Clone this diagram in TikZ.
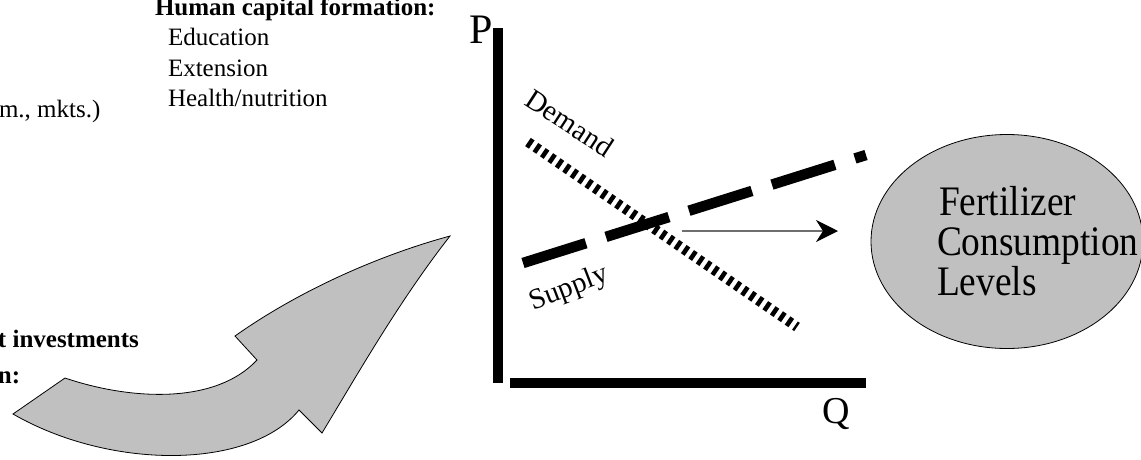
\documentclass[tikz,border=0pt]{standalone}
\usepackage{fontspec}
\setmainfont{Liberation Serif}
\newfontfamily\condserif[FakeStretch=0.89]{Liberation Serif}
\usetikzlibrary{arrows.meta,shapes.geometric}
\definecolor{arrowgray}{RGB}{192,192,192}
\definecolor{thingray}{RGB}{110,110,110}
\begin{document}
\begin{tikzpicture}[x=1pt,y=-1pt,
  lbl/.style={inner sep=0pt, outer sep=0pt, anchor=base west, font=\fontsize{25}{30}\selectfont},
  hd/.style={lbl, font=\fontsize{25}{30}\selectfont\bfseries},
  big/.style={inner sep=0pt, outer sep=0pt, anchor=base west, font=\condserif\fontsize{42}{40}\selectfont},
  curvelbl/.style={inner sep=0pt, outer sep=0pt, font=\fontsize{29}{32}\selectfont},
  axisline/.style={line width=10pt},
  supplyline/.style={line width=10.5pt, dash pattern=on 66pt off 21pt},
  demandline/.style={line width=10pt, dash pattern=on 4.5pt off 4.5pt},
  bigarrow/.style={fill=arrowgray, draw=black, line width=0.8pt, line join=miter},
  shiftarrow/.style={draw=thingray, line width=1.3pt, -{Stealth[length=22pt,width=22pt,inset=7pt,color=black]}},
  fertshape/.style={ellipse, draw=black, line width=0.8pt, fill=arrowgray, inner sep=0pt, minimum width=272pt, minimum height=214pt}
]
\useasboundingbox (0,0) rectangle (1141,459);
\clip (0,0) rectangle (1141,459);

% left texts
\node[hd] (hcf) at (155,15) {Human capital formation:};
\node[lbl] (edu) at (168,45) {Education};
\node[lbl] (ext) at (168,76) {Extension};
\node[lbl] (hea) at (168,106) {Health/nutrition};
\node[lbl] (mkts) at (-1,117) {m., mkts.)};
\node[hd] (inv) at (-2,347) {t investments};
\node[hd] (nn) at (-2,383) {n:};

% big curved arrow
\draw[bigarrow] (13,414) -- (65,378)
  .. controls (130,400) and (215,405) .. (257,360)
  -- (235,336)
  .. controls (300,290) and (380,255) .. (450,236)
  .. controls (400,300) and (360,370) .. (322,433)
  -- (299,410)
  .. controls (250,470) and (110,470) .. (13,414) -- cycle;

% axes
\coordinate (pTop) at (498,28);
\coordinate (pBot) at (498,383);
\coordinate (qLeft) at (510,383);
\coordinate (qRight) at (866,383);
\draw[axisline] (pTop) -- (pBot);
\draw[axisline] (qLeft) -- (qRight);
\node[inner sep=0pt, anchor=base west, font=\fontsize{42}{42}\selectfont] (P) at (469,43) {P};
\node[inner sep=0pt, anchor=base west, font=\fontsize{38}{38}\selectfont] (Q) at (822,423) {Q};

% demand and supply
\coordinate (dA) at (528,142);
\coordinate (dB) at (797,327);
\draw[demandline] (dA) -- (dB);
\coordinate (sA) at (523,263);
\coordinate (sB) at (866,155);
\draw[supplyline] (sA) -- (sB);
\node[curvelbl, rotate=-33] (dem) at (570,123) {Demand};
\node[curvelbl, rotate=21] (sup) at (569,289) {Supply};

% shift arrow
\coordinate (shA) at (682,231);
\coordinate (shB) at (838,231);
\draw[shiftarrow] (shA) -- (shB);

% ellipse
\node[fertshape] (fert) at (1007,241.5) {};
\node[big] (f1) at (939,215) {Fertilizer};
\node[big] (f2) at (937,255) {Consumption};
\node[big] (f3) at (937,295) {Levels};
\end{tikzpicture}
\end{document}
